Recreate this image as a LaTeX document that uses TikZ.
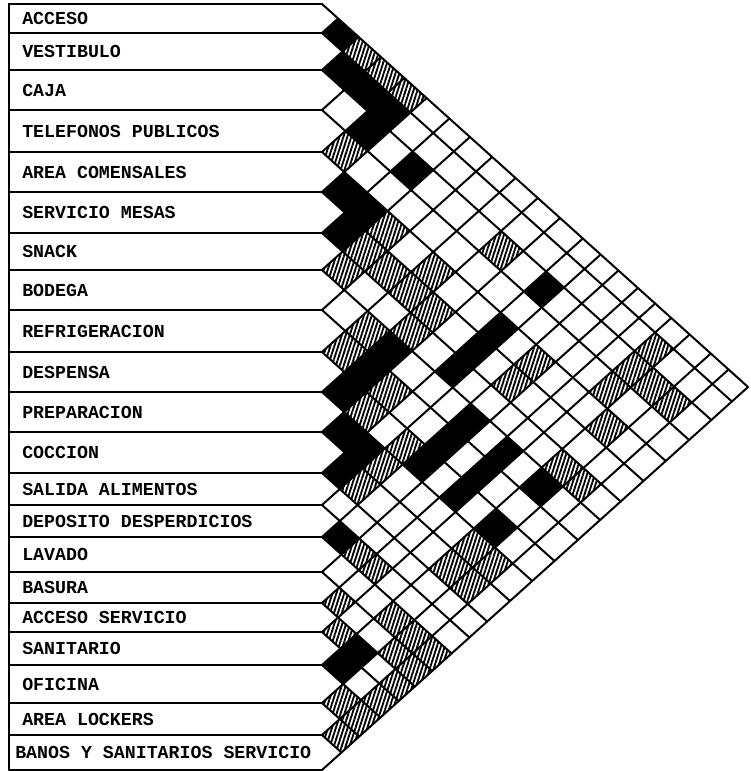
\documentclass[tikz,border=0pt]{standalone}
\usepackage{fontspec}
\setmonofont{Liberation Mono}
\usetikzlibrary{patterns.meta}
\def\bb{{4,33,70,110,152,192,233,270,310,352,392,432,473,505,537,572,603,632,665,703,735,770}}
\def\xo{322}
\def\ts{1.798}
% point where the down-right line from boundary #2 meets the up-right line from boundary #3
\newcommand\gpt[3]{\pgfmathsetmacro\gpa{\bb[#2]}\pgfmathsetmacro\gpb{\bb[#3]}\coordinate (#1) at ({\xo+(\gpb-\gpa)/\ts},{(\gpa+\gpb)/2});}
\tikzset{
  gridline/.style={line width=1.5pt, line cap=round, line join=round},
  blkcell/.style={fill=black},
  hatchcell/.style={pattern={Lines[angle=72,distance=2.8pt,line width=1.4pt]}},
  lbl/.style={anchor=west, font=\ttfamily\bfseries\fontsize{13.7}{13.7}\selectfont, inner sep=0pt}
}
\begin{document}
\begin{tikzpicture}[x=0.75pt,y=-0.75pt]
\useasboundingbox (0,0) rectangle (750,771);
% black cells
\foreach \i/\j in {1/2,2/3,2/4,2/5,3/5,3/7,5/6,5/7,6/7,3/13,5/13,6/13,7/13,8/11,9/11,10/11,11/12,11/13,12/13,8/15,9/15,10/15,8/17,9/17,10/17,8/19,10/19,14/15,17/19,18/19}{
  \pgfmathtruncatemacro\im{\i-1}\pgfmathtruncatemacro\jm{\j-1}
  \gpt{cL}{\i}{\jm}\gpt{cT}{\im}{\jm}\gpt{cR}{\im}{\j}\gpt{cB}{\i}{\j}
  \fill[blkcell] (cL)--(cT)--(cR)--(cB)--cycle;
}
% hatched cells
\foreach \i/\j in {1/3,1/4,1/5,4/5,5/8,6/8,7/8,6/9,6/10,6/11,5/10,8/10,9/10,7/11,10/12,9/12,11/14,10/14,12/14,3/11,2/18,3/18,4/18,3/19,3/20,5/15,6/15,5/19,7/19,7/20,11/19,11/20,12/19,12/20,14/16,14/17,15/19,15/20,15/21,16/20,16/21,17/21,18/21,19/21,16/17,17/18,19/20,20/21}{
  \pgfmathtruncatemacro\im{\i-1}\pgfmathtruncatemacro\jm{\j-1}
  \gpt{cL}{\i}{\jm}\gpt{cT}{\im}{\jm}\gpt{cR}{\im}{\j}\gpt{cB}{\i}{\j}
  \path[hatchcell] (cL)--(cT)--(cR)--(cB)--cycle;
}
% grid and label boxes
\foreach \k in {0,...,21}{
  \gpt{ga}{\k}{21}\gpt{gb}{0}{\k}\gpt{go}{\k}{\k}
  \pgfmathsetmacro\yy{\bb[\k]}
  \coordinate (gl) at (9,\yy);
  \draw[gridline] (gb) -- (go) -- (ga);
  \draw[gridline] (gl) -- (go);
}
\coordinate (lt) at (9,4);
\coordinate (lb) at (9,770);
\draw[gridline] (lt) -- (lb);
% labels
\foreach \t/\xx [count=\n] in {ACCESO/22,VESTIBULO/22,CAJA/22,TELEFONOS PUBLICOS/22,AREA COMENSALES/22,SERVICIO MESAS/22,SNACK/22,BODEGA/22,REFRIGERACION/22,DESPENSA/22,PREPARACION/22,COCCION/22,SALIDA ALIMENTOS/22,DEPOSITO DESPERDICIOS/22,LAVADO/22,BASURA/22,ACCESO SERVICIO/22,SANITARIO/22,OFICINA/22,AREA LOCKERS/22,BANOS Y SANITARIOS SERVICIO/15}{
  \pgfmathsetmacro\ya{\bb[\n-1]}\pgfmathsetmacro\yb{\bb[\n]}
  \node[lbl] (r\n) at (\xx,{(\ya+\yb)/2}) {\t};
}
\end{tikzpicture}
\end{document}
